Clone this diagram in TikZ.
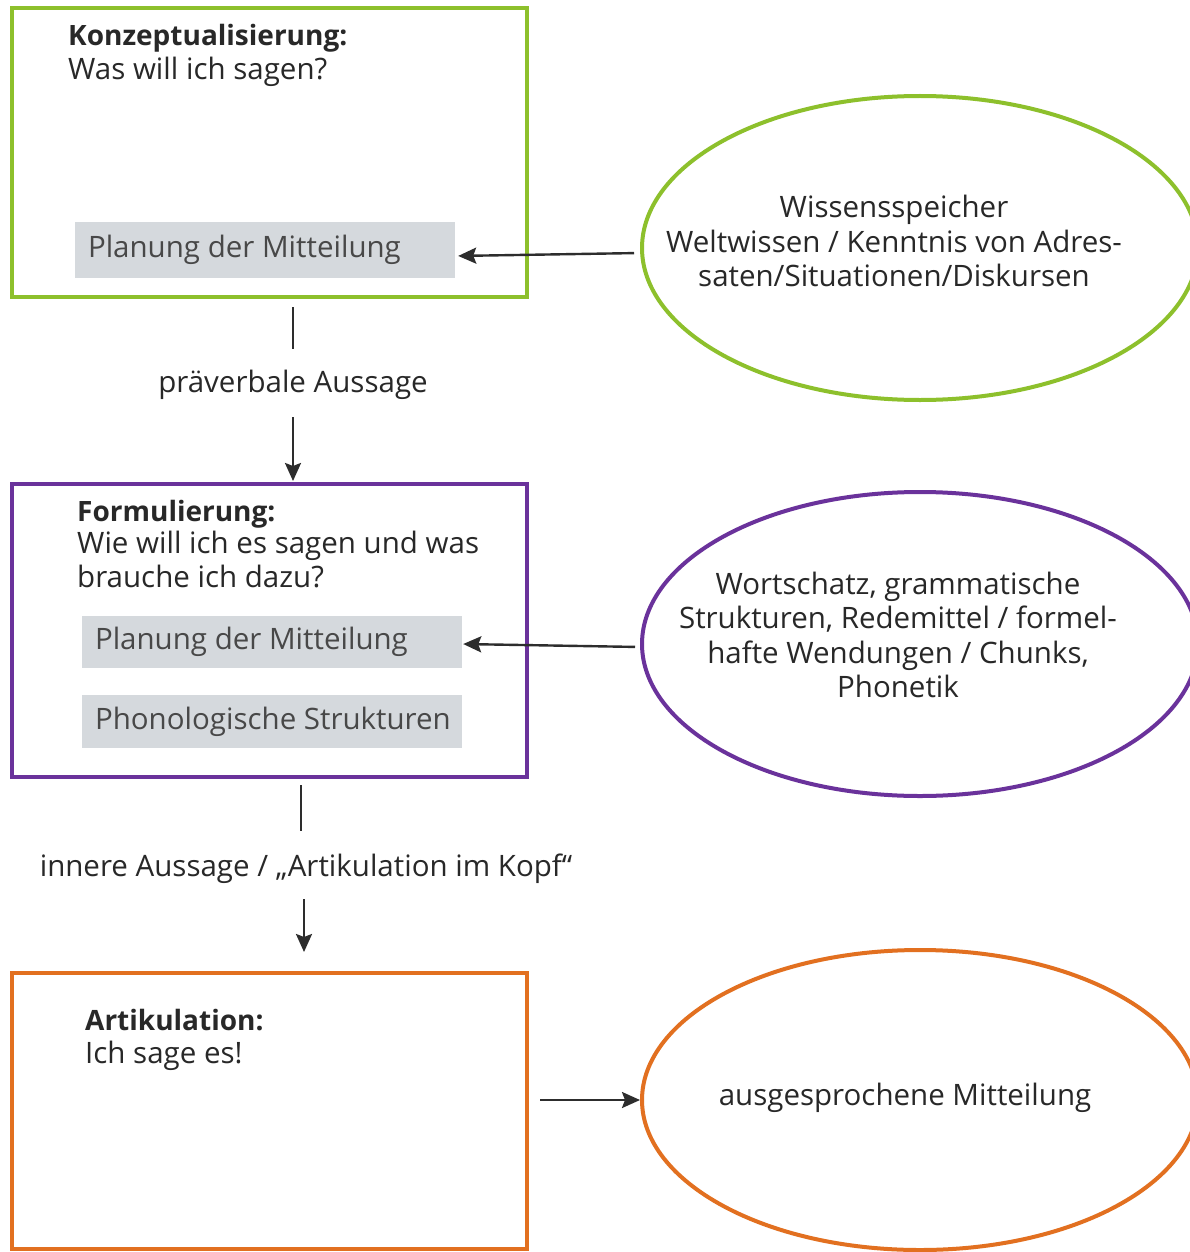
\documentclass[tikz,border=0pt]{standalone}
\usepackage{fontspec}
\setmainfont{Open Sans}
\usetikzlibrary{shapes.geometric,arrows.meta}
\definecolor{cgreen}{RGB}{141,192,44}
\definecolor{cpurple}{RGB}{106,50,155}
\definecolor{corange}{RGB}{226,112,32}
\definecolor{cgray}{RGB}{213,217,221}
\definecolor{ctext}{RGB}{40,40,40}
\definecolor{cline}{RGB}{45,45,45}
\begin{document}
\begin{tikzpicture}[x=1pt,y=-1pt,
  txt/.style={font=\fontsize{29.5}{34.5}\selectfont, text=ctext, inner sep=0pt},
  head/.style={txt, font=\fontsize{28}{34.5}\selectfont\bfseries},
  stagebox/.style={draw, line width=4pt, minimum width=515pt, inner sep=0pt},
  graybox/.style={fill=cgray, minimum width=380pt, inner sep=0pt},
  graytxt/.style={txt, text=ctext!85, anchor=west},
  oval/.style={ellipse, draw, line width=4pt, minimum width=556pt, inner sep=0pt},
  etxt/.style={txt, align=center},
  conn/.style={draw=cline, line width=2.4pt},
  arr/.style={conn, -{Stealth[length=18pt,width=16pt,inset=3pt]}}
]
\clip (0,0) rectangle (1190,1252);
\fill[white] (0,0) rectangle (1190,1252);

% stage boxes
\node[stagebox, draw=cgreen, minimum height=289pt] (konz) at (269.5,152.5) {};
\node[stagebox, draw=cpurple, minimum height=293pt] (form) at (269.5,630.5) {};
\node[stagebox, draw=corange, minimum height=276pt] (artik) at (269.5,1111) {};

% headings
\node[head, anchor=base west] (h1) at (68,46) {Konzeptualisierung:};
\node[txt, anchor=base west] (q1) at (68,80) {Was will ich sagen?};
\node[head, anchor=base west] (h2) at (77,521) {Formulierung:};
\node[txt, anchor=base west] (q2a) at (77,553) {Wie will ich es sagen und was};
\node[txt, anchor=base west] (q2b) at (77,587) {brauche ich dazu?};
\node[head, anchor=base west] (h3) at (85,1030) {Artikulation:};
\node[txt, anchor=base west] (q3) at (85,1063) {Ich sage es!};

% gray boxes
\node[graybox, minimum height=56pt] (g1) at (265,250) {};
\node[graybox, minimum height=52pt] (g2) at (272,642) {};
\node[graybox, minimum height=53pt] (g3) at (272,721.5) {};
\node[graytxt] (g1t) at ([xshift=13pt]g1.west) {Planung der Mitteilung};
\node[graytxt] (g2t) at ([xshift=13pt]g2.west) {Planung der Mitteilung};
\node[graytxt] (g3t) at ([xshift=13pt]g3.west) {Phonologische Strukturen};

% ellipses
\node[oval, draw=cgreen, minimum height=304pt] (e1) at (920,248) {};
\node[oval, draw=cpurple, minimum height=304pt] (e2) at (920,644) {};
\node[oval, draw=corange, minimum height=300pt] (e3) at (920,1100) {};

\node[etxt] (t1) at (894,241) {Wissensspeicher\\Weltwissen / Kenntnis von Adres-\\saten/Situationen/Diskursen};
\node[etxt] (t2) at (898,635) {Wortschatz, grammatische\\Strukturen, Redemittel / formel-\\hafte Wendungen / Chunks,\\Phonetik};
\node[etxt] (t3) at (905,1098) {ausgesprochene Mitteilung};

% labels between stages
\node[txt, anchor=base] (l1) at (293,392) {präverbale Aussage};
\node[txt, anchor=base] (l2) at (306,876) {innere Aussage / „Artikulation im Kopf“};

% connectors
\draw[arr, shorten <=6pt, shorten >=3pt] ([yshift=-5pt]e1.west) -- ([yshift=-6pt]g1.east);
\draw[arr, shorten <=5pt, shorten >=1pt] ([yshift=-3pt]e2.west) -- ([yshift=-2pt]g2.east);
\draw[arr, shorten <=11pt] (artik.east |- e3.west) -- (e3.west);

\draw[conn, shorten <=8pt, shorten >=20pt] (l1.north |- konz.south) -- (l1.north);
\draw[arr, shorten <=18pt, shorten >=1pt] (l1.south) -- (l1.south |- form.north);
\draw[conn, shorten <=6pt, shorten >=22pt] ([xshift=-5pt]l2.north |- form.south) -- ([xshift=-5pt]l2.north);
\draw[arr, shorten <=16pt, shorten >=19pt] ([xshift=-2pt]l2.south) -- ([xshift=-2pt]l2.south |- artik.north);
\end{tikzpicture}
\end{document}
